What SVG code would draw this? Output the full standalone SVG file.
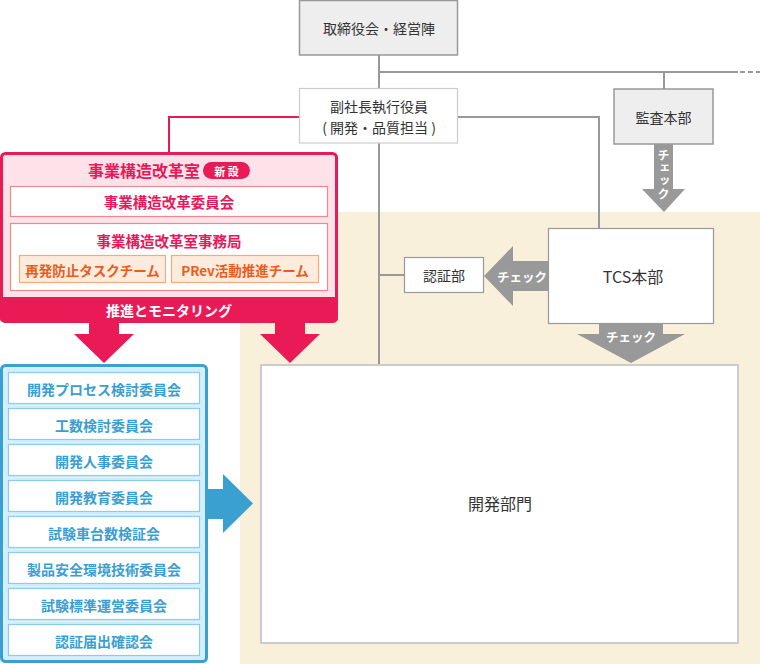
<svg xmlns="http://www.w3.org/2000/svg" width="760" height="664" viewBox="0 0 760 664">
<style>
text{font-family:"Noto Sans CJK JP","Noto Sans",sans-serif;text-anchor:middle;dominant-baseline:central}
.gbox{fill:#eeeeee;stroke:#999;stroke-width:1.5}
.wbox{fill:#fff;stroke:#999;stroke-width:1.2}
.dk{fill:#333;font-size:14px}
.ln{fill:none;stroke:#999;stroke-width:2}
.pk{fill:#ea1a57}
.pkt{fill:#e8195a;font-weight:bold}
.or{fill:#fdebdd;stroke:#f7a97d;stroke-width:1.2}
.ort{fill:#ec5b1e;font-weight:bold;font-size:13.5px}
.bl{fill:#fff;stroke:#86cdee;stroke-width:1.2}
.blt{fill:#3a9ed2;font-weight:bold;font-size:14px}
.wt{fill:#fff;font-weight:bold}
.ga{fill:#999}
</style>
<rect x="240" y="212" width="520" height="452" fill="#f9f0dc"/>
<g id="connectors">
<path class="ln" d="M379 55V365M379 72H738M664 72V89M458 117H599V228M379 275H404"/>
<path class="ln" d="M740 72H760" stroke-dasharray="5,3"/>
<path d="M299 117H169V153" fill="none" stroke="#ea1a57" stroke-width="2"/>
</g>
<g id="board"><rect class="gbox" x="299.5" y="0.5" width="158" height="54.5"/><text class="dk" x="379" y="28">取締役会・経営陣</text></g>
<g id="vp"><rect x="299.5" y="88.5" width="158" height="54.5" fill="#fff" stroke="#ccc" stroke-width="1.2"/><text class="dk" x="379" y="106">副社長執行役員</text><text class="dk" x="379" y="127">( 開発・品質担当 )</text></g>
<g id="audit"><rect class="gbox" x="614" y="89" width="99" height="55"/><text class="dk" x="663.5" y="117">監査本部</text></g>
<g id="audit-arrow"><path class="ga" d="M654 144H673V189H685L664 212L642 189H654Z"/><text class="wt" font-size="12" letter-spacing="1" x="663.5" y="149" style="writing-mode:vertical-rl;text-anchor:start">チェック</text></g>
<g id="reform">
<rect x="1.5" y="153.5" width="335" height="168" rx="4" fill="#fde2e9" stroke="#ea1a57" stroke-width="3"/>
<path class="pk" d="M0 297H338V318Q338 322 334 322H4Q0 322 0 318Z"/>
<text class="wt" font-size="14" x="169" y="309.5">推進とモニタリング</text>
<text class="pkt" font-size="16" x="144" y="170">事業構造改革室</text>
<rect class="pk" x="203" y="162" width="47" height="17" rx="8.5"/>
<text class="wt" font-size="11" x="226.5" y="170.5">新 設</text>
<rect x="10.5" y="186.5" width="317" height="30" fill="#fff" stroke="#f08a8a" stroke-width="1.2"/>
<text class="pkt" font-size="14.5" x="169" y="201.5">事業構造改革委員会</text>
<rect x="10.5" y="223.5" width="317" height="67" fill="#fff" stroke="#f08a8a" stroke-width="1.2"/>
<text class="pkt" font-size="14.5" x="169" y="240">事業構造改革室事務局</text>
<rect class="or" x="19.5" y="255.5" width="146" height="27"/>
<text class="ort" x="92.5" y="269.5">再発防止タスクチーム</text>
<rect class="or" x="171.5" y="255.5" width="147" height="27"/>
<text class="ort" x="245" y="269.5">PRev活動推進チーム</text>
</g>
<g id="red-arrows"><path class="pk" d="M89 322H119V334H134L104 363L74 334H89Z"/><path class="pk" d="M275 322H305V334H320L290 363L260 334H275Z"/></g>
<g id="committees">
<rect x="1.5" y="365.5" width="205" height="296" rx="4" fill="#d5eefb" stroke="#3aa0d0" stroke-width="3"/>
<rect class="bl" x="8.5" y="372.5" width="191" height="31"/><text class="blt" x="104" y="388.5">開発プロセス検討委員会</text>
<rect class="bl" x="8.5" y="408.5" width="191" height="31"/><text class="blt" x="104" y="424.5">工数検討委員会</text>
<rect class="bl" x="8.5" y="444.5" width="191" height="31"/><text class="blt" x="104" y="460.5">開発人事委員会</text>
<rect class="bl" x="8.5" y="480.5" width="191" height="31"/><text class="blt" x="104" y="496.5">開発教育委員会</text>
<rect class="bl" x="8.5" y="516.5" width="191" height="31"/><text class="blt" x="104" y="532.5">試験車台数検証会</text>
<rect class="bl" x="8.5" y="552.5" width="191" height="31"/><text class="blt" x="104" y="568.5">製品安全環境技術委員会</text>
<rect class="bl" x="8.5" y="588.5" width="191" height="31"/><text class="blt" x="104" y="604.5">試験標準運営委員会</text>
<rect class="bl" x="8.5" y="624.5" width="191" height="31"/><text class="blt" x="104" y="640.5">認証届出確認会</text>
</g>
<g id="blue-arrow"><path fill="#3aa0d0" d="M207 489H223V474L253 503.5L223 533V519H207Z"/></g>
<g id="dev"><rect x="261" y="365" width="477" height="278" fill="#fff" stroke="#ccc" stroke-width="2"/><text class="dk" style="font-size:16px" x="500" y="503">開発部門</text></g>
<g id="tcs"><rect class="wbox" x="548.5" y="228.5" width="165" height="95"/><text class="dk" style="font-size:16px" x="633" y="276">TCS本部</text></g>
<g id="cert"><rect class="wbox" x="404.5" y="257.5" width="79" height="35"/><text class="dk" x="444" y="275">認証部</text></g>
<g id="check-left"><path class="ga" d="M548 261V291H513V306L484 276L513 246V261Z"/><text class="wt" font-size="12.5" x="522" y="276">チェック</text></g>
<g id="check-down"><path class="ga" d="M599 323H663V334H685L631 363L577 334H599Z"/><text class="wt" font-size="12.5" x="631" y="336">チェック</text></g>
</svg>
